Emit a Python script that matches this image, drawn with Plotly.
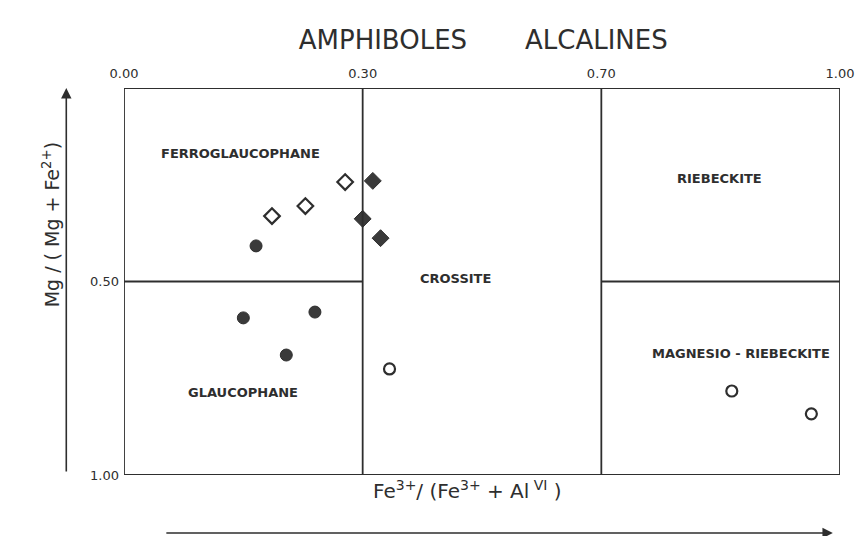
import numpy as np
import plotly.graph_objects as go

# Fe3+/(Fe3+ + AlVI) boundaries; each field is drawn with equal width
x_bounds = [0.00, 0.30, 0.70, 1.00]
x_tick_labels = ["0.00", "0.30", "0.70", "1.00"]
y_tick_vals = [0.50, 1.00]
y_tick_labels = ["0.50", "1.00"]

# Analyses: x = Fe3+/(Fe3+ + AlVI), y = Mg/(Mg + Fe2+) as plotted
filled_circle_x = [0.166, 0.150, 0.240, 0.204]
filled_circle_y = [0.408, 0.594, 0.579, 0.690]
open_diamond_x = [0.186, 0.228, 0.278]
open_diamond_y = [0.331, 0.305, 0.243]
filled_diamond_x = [0.317, 0.300, 0.330]
filled_diamond_y = [0.240, 0.338, 0.388]
open_circle_x = [0.345, 0.864, 0.964]
open_circle_y = [0.726, 0.783, 0.842]

field_names = ["FERROGLAUCOPHANE", "GLAUCOPHANE", "CROSSITE",
               "RIEBECKITE", "MAGNESIO - RIEBECKITE"]
field_x = [0.146, 0.150, 0.456, 0.848, 0.875]
field_y = [0.168, 0.788, 0.491, 0.233, 0.687]

panel = np.arange(len(x_bounds))


def to_panel(v):
    # piecewise scale: each compositional field occupies one unit
    return np.interp(v, x_bounds, panel)


INK = "#2e2e2e"
fig = go.Figure()

fig.add_trace(go.Scatter(
    x=to_panel(filled_circle_x), y=filled_circle_y, mode="markers",
    marker=dict(symbol="circle", size=12, color="#3a3a3a",
                line=dict(color=INK, width=1)),
    showlegend=False, hoverinfo="skip"))
fig.add_trace(go.Scatter(
    x=to_panel(open_diamond_x), y=open_diamond_y, mode="markers",
    marker=dict(symbol="diamond-open", size=12, color=INK,
                line=dict(color=INK, width=2.2)),
    showlegend=False, hoverinfo="skip"))
fig.add_trace(go.Scatter(
    x=to_panel(filled_diamond_x), y=filled_diamond_y, mode="markers",
    marker=dict(symbol="diamond", size=13, color="#3a3a3a",
                line=dict(color=INK, width=1)),
    showlegend=False, hoverinfo="skip"))
fig.add_trace(go.Scatter(
    x=to_panel(open_circle_x), y=open_circle_y, mode="markers",
    marker=dict(symbol="circle-open", size=11, color=INK,
                line=dict(color=INK, width=2.2)),
    showlegend=False, hoverinfo="skip"))

line = dict(color=INK, width=1.8)
shapes = [
    dict(type="rect", xref="x", yref="y", x0=0, x1=3, y0=0, y1=1, line=line),
    dict(type="line", xref="x", yref="y", x0=1, x1=1, y0=0, y1=1, line=line),
    dict(type="line", xref="x", yref="y", x0=2, x1=2, y0=0, y1=1, line=line),
    dict(type="line", xref="x", yref="y", x0=0, x1=1, y0=0.5, y1=0.5, line=line),
    dict(type="line", xref="x", yref="y", x0=2, x1=3, y0=0.5, y1=0.5, line=line),
]

annotations = []
for name, fx, fy in zip(field_names, field_x, field_y):
    annotations.append(dict(
        x=float(to_panel(fx)), y=fy, xref="x", yref="y", text=f"<b>{name}</b>",
        showarrow=False, font=dict(family="DejaVu Sans", size=13, color=INK)))

# axis arrows
annotations.append(dict(
    x=-0.0806, y=1.0, xref="paper", yref="paper", ax=0, ay=385,
    text="", showarrow=True, arrowhead=2, arrowsize=1.3, arrowwidth=1.6,
    arrowcolor=INK))
annotations.append(dict(
    x=0.99, y=-0.15, xref="paper", yref="paper", ax=-668, ay=0,
    text="", showarrow=True, arrowhead=2, arrowsize=1.3, arrowwidth=1.6,
    arrowcolor=INK))

# axis titles
annotations.append(dict(
    x=0.48, y=-0.04, xref="paper", yref="paper", yanchor="middle",
    text="Fe<sup>3+</sup>/ (Fe<sup>3+</sup> + Al<sup> VI</sup> )",
    showarrow=False, font=dict(family="DejaVu Sans", size=20, color=INK)))
annotations.append(dict(
    x=-0.121, y=0.646, xref="paper", yref="paper", textangle=-90,
    text="Mg / ( Mg + Fe<sup>2+</sup>)",
    showarrow=False, font=dict(family="DejaVu Sans", size=19, color=INK)))

fig.update_layout(
    width=866, height=536,
    margin=dict(l=124, r=22, t=88, b=61),
    paper_bgcolor="white", plot_bgcolor="white",
    title=dict(text="AMPHIBOLES &nbsp;&nbsp;&nbsp;&nbsp;&nbsp; ALCALINES",
               x=0.558, xanchor="center", y=0.925, yanchor="middle",
               font=dict(family="DejaVu Sans", size=26, color=INK)),
    shapes=shapes, annotations=annotations,
    xaxis=dict(range=[0, 3], side="top", tickvals=list(panel),
               ticktext=x_tick_labels, showgrid=False, zeroline=False,
               showline=False, ticks="", ticklabelstandoff=6,
               tickfont=dict(family="DejaVu Sans", size=13, color=INK),
               fixedrange=True),
    yaxis=dict(range=[1, 0], tickvals=y_tick_vals, ticktext=y_tick_labels,
               showgrid=False, zeroline=False, showline=False, ticks="",
               ticklabelstandoff=4,
               tickfont=dict(family="DejaVu Sans", size=13, color=INK),
               fixedrange=True),
)

fig.write_html("out.html")
